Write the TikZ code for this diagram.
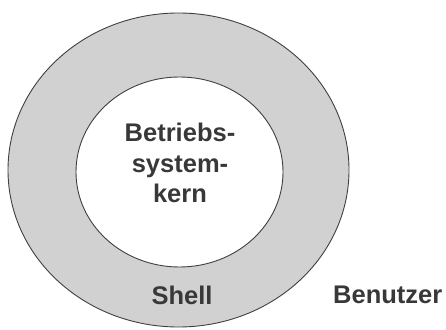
\documentclass[tikz,border=0pt]{standalone}
\usepackage{fontspec}
\setmainfont{Liberation Sans}
\usetikzlibrary{calc}
\tikzset{
  ring/.style={draw=black!75, line width=0.9pt, fill=black!18, even odd rule},
  label/.style={font=\bfseries\fontsize{25.5}{30.5}\selectfont, text=black!78, align=center, inner sep=0pt}
}

\begin{document}
\begin{tikzpicture}[x=1pt,y=1pt]
  \useasboundingbox (0,0) rectangle (446,329);
  % ring
  \coordinate (O) at (178.5,159);
  \coordinate (I) at (179.5,157);
  \def\ra{170.5}  % outer radii
  \def\rb{157}
  \def\ia{103.5}  % inner radii
  \def\ib{95}
  \path[ring] (O) ellipse [x radius=\ra, y radius=\rb]
              (I) ellipse [x radius=\ia, y radius=\ib];
  % labels
  \node[label, anchor=base] (kern) at (180,126) {Betriebs-\\system-\\kern};
  \node[label, anchor=base] (shell) at (182,25) {Shell};
  \node[label, anchor=base west] (user) at (333,26) {Benutzer};
\end{tikzpicture}
\end{document}
